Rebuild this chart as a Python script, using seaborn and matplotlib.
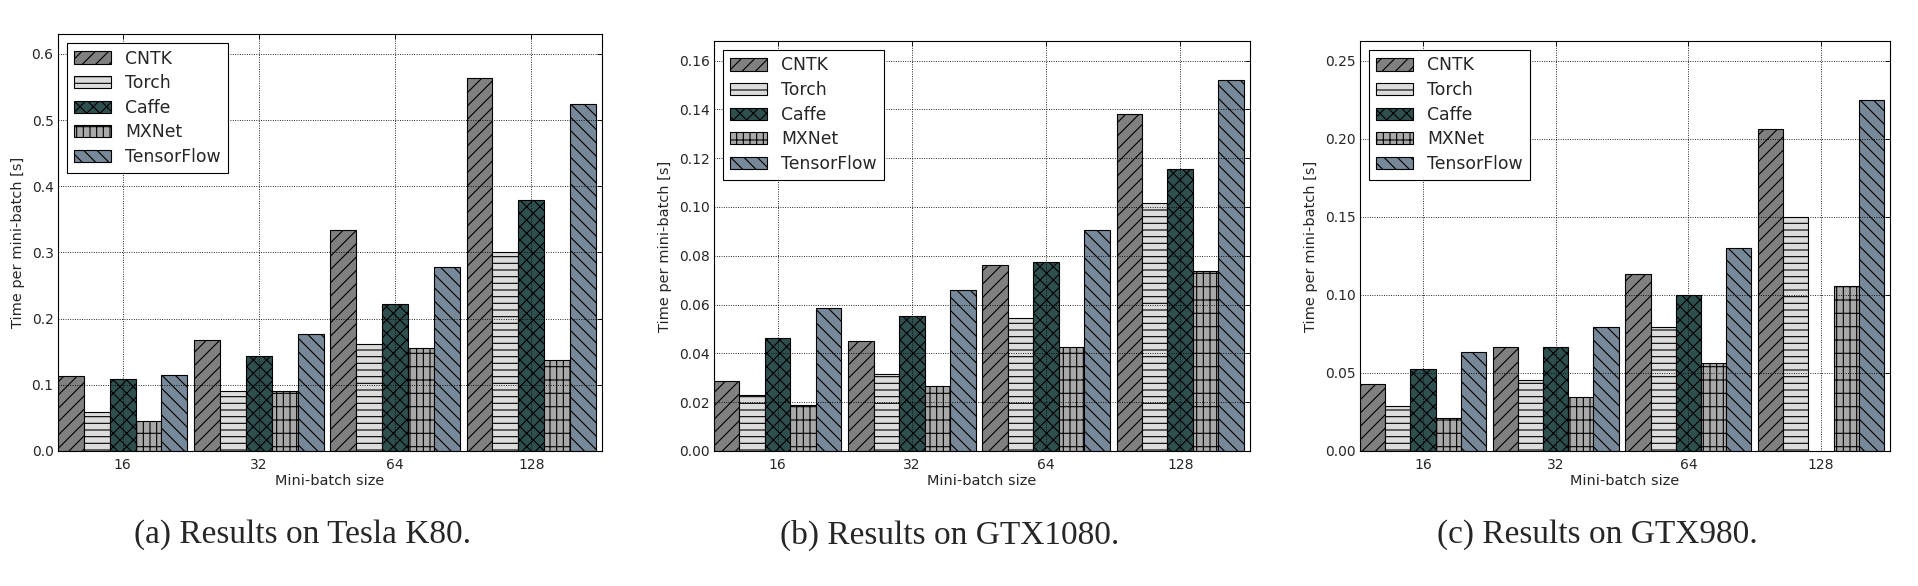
import numpy as np
import pandas as pd
import matplotlib
matplotlib.use('Agg')
import matplotlib.pyplot as plt
from matplotlib.ticker import MultipleLocator, FormatStrFormatter
import seaborn as sns

# 数据
batch_sizes = ['16', '32', '64', '128']
frameworks = ['CNTK', 'Torch', 'Caffe', 'MXNet', 'TensorFlow']

k80_times = {
    'CNTK':       [0.114, 0.168, 0.334, 0.563],
    'Torch':      [0.059, 0.090, 0.162, 0.301],
    'Caffe':      [0.109, 0.143, 0.222, 0.379],
    'MXNet':      [0.046, 0.091, 0.155, 0.137],
    'TensorFlow': [0.115, 0.177, 0.278, 0.524],
}
gtx1080_times = {
    'CNTK':       [0.0287, 0.0450, 0.0763, 0.1379],
    'Torch':      [0.0228, 0.0314, 0.0545, 0.1017],
    'Caffe':      [0.0465, 0.0555, 0.0775, 0.1156],
    'MXNet':      [0.0189, 0.0268, 0.0427, 0.0737],
    'TensorFlow': [0.0587, 0.0658, 0.0907, 0.1521],
}
gtx980_times = {
    'CNTK':       [0.0431, 0.0667, 0.1136, 0.2062],
    'Torch':      [0.0285, 0.0452, 0.0797, 0.1497],
    'Caffe':      [0.0523, 0.0663, 0.0998, np.nan],
    'MXNet':      [0.0212, 0.0346, 0.0563, 0.1054],
    'TensorFlow': [0.0633, 0.0794, 0.1298, 0.2249],
}
captions = ['(a) Results on Tesla K80.', '(b) Results on GTX1080.', '(c) Results on GTX980.']

# 样式
colors = ['gray', 'gainsboro', 'darkslategray', 'darkgray', 'lightslategray']
hatches = ['//', '--', 'xx', '+|', '\\\\']
y_steps = [0.1, 0.02, 0.05]
y_tops = [0.63, 0.168, 0.2625]
y_formats = ['%.1f', '%.2f', '%.2f']
axes_rects = [
    [58 / 1918, 135 / 586, 544 / 1918, 417 / 586],
    [714 / 1918, 135 / 586, 536 / 1918, 410 / 586],
    [1360 / 1918, 135 / 586, 530 / 1918, 410 / 586],
]
caption_x = [303 / 1918, 950 / 1918, 1597 / 1918]

sns.set_style('white')
plt.rcParams['font.family'] = ['DejaVu Sans']
plt.rcParams['hatch.linewidth'] = 1.0


def to_long(times):
    rows = []
    for fw in frameworks:
        for b, t in zip(batch_sizes, times[fw]):
            rows.append((b, fw, t))
    return pd.DataFrame(rows, columns=['batch', 'framework', 'time']).dropna()


fig = plt.figure(figsize=(1918 / 80, 586 / 80), dpi=80)

for i, times in enumerate([k80_times, gtx1080_times, gtx980_times]):
    ax = fig.add_axes(axes_rects[i])
    df = to_long(times)
    sns.barplot(data=df, x='batch', y='time', hue='framework',
                order=batch_sizes, hue_order=frameworks, palette=colors,
                saturation=1, width=0.95, edgecolor='black', linewidth=1,
                errorbar=None, legend=False, ax=ax)

    for container, hatch in zip(ax.containers, hatches):
        for bar in container:
            bar.set_hatch(hatch)

    ax.set_xlim(-0.475, 3.52)
    ax.set_ylim(0, y_tops[i])
    ax.yaxis.set_major_locator(MultipleLocator(y_steps[i]))
    ax.yaxis.set_major_formatter(FormatStrFormatter(y_formats[i]))

    ax.set_axisbelow(False)
    ax.grid(True, color='black', linestyle=':', linewidth=0.8)
    ax.tick_params(direction='in', top=True, right=True, length=4.5,
                   width=0.8, labelsize=12.5, color='black')
    ax.tick_params(axis='x', pad=6)
    ax.tick_params(axis='y', pad=4)
    for spine in ax.spines.values():
        spine.set_color('black')
        spine.set_linewidth(1)

    ax.set_xlabel('Mini-batch size', fontsize=13, labelpad=2)
    ax.set_ylabel('Time per mini-batch [s]', fontsize=13, labelpad=6)

    handles = [c.patches[0] for c in ax.containers]
    leg = ax.legend(handles, frameworks, loc='upper left', fontsize=15.5,
                    frameon=True, fancybox=False, borderpad=0.4,
                    labelspacing=0.38, handlelength=2.2, handleheight=0.7,
                    handletextpad=0.8, borderaxespad=0.5)
    leg.get_frame().set_edgecolor('black')
    leg.get_frame().set_linewidth(1)
    leg.get_frame().set_alpha(1)

    fig.text(caption_x[i], 0.087, captions[i], ha='center', va='center',
             family='Liberation Serif', fontsize=30)

fig.savefig('out.png', dpi=80, facecolor='white')
